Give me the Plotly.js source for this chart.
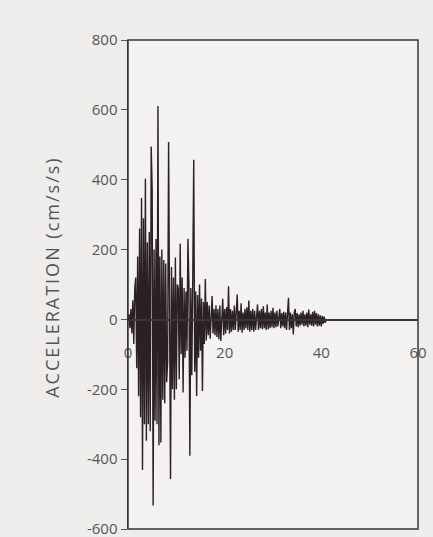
<!DOCTYPE html>
<html>
<head>
<meta charset="utf-8">
<script src="https://cdn.plot.ly/plotly-3.0.1.min.js"></script>
<style>
  html, body { margin: 0; padding: 0; background: #efedec; }
  #chart { width: 433px; height: 537px; }
  #chart .annotation-text { letter-spacing: 2px; }
</style>
</head>
<body>
<div id="chart"></div>
<script>
// Sampling interval of the record (seconds)
const dt = 0.2;
// Acceleration samples (cm/s/s), one every dt from t = 0
const accel = [
  0, 15, -25, 30, -40, 55, -70, 90, 120, -140,
  180, -220, 260, -280, 348, -431, 290, -300, 403, -347,
  220, -300, 250, -320, 495, 371, -533, 200, -290, 230,
  -300, 611, -360, 180, -352, 200, -230, 170, -240, 160,
  -180, -120, 508, 120, -457, 150, -200, 120, -230, 177,
  -200, 100, 90, -171, 217, -100, 120, -209, 90, -110,
  80, -90, 231, 100, -390, 90, -160, 120, 457, -150,
  80, -219, 70, -110, 100, -90, 60, -205, 50, -70,
  116, -60, 50, -45, 40, -55, 35, 67, -40, 30,
  -45, 40, -50, 30, -57, 40, -62, 30, 59, -45,
  30, -40, 35, -30, 95, -40, 30, -35, 25, -30,
  40, -30, 25, 71, -35, 25, -30, 46, -38, 20,
  -30, 30, -25, 35, -30, 54, -35, 25, -30, 30,
  -35, 25, -30, 20, 43, -30, 25, -25, 30, -28,
  38, -25, 20, -30, 43, -28, 20, -25, 25, -22,
  33, -25, 20, -22, 25, -20, 18, 30, -25, 18,
  -20, 22, -25, 20, -30, 25, 62, -30, 20, -25,
  15, -43, 20, 30, -20, 18, -22, 15, -18, 20,
  -15, 25, -20, 15, -18, 20, -22, 28, -15, 15,
  -18, 22, -20, 25, -15, 18, -20, 15, -18, 12,
  -20, 10, -12, 8, -10, 0
];
// Axis ticks
const xTicks = [0, 20, 40, 60];
const xTickLabels = ['0', '20', '40', '60'];
const yTicks = [-600, -400, -200, 0, 200, 400, 600, 800];
const yTickLabels = ['-600', '-400', '-200', '0', '200', '400', '600', '800'];
const xRange = [0, 60];
const yRange = [-600, 800];
const yTitle = 'ACCELERATION (cm/s/s)';

const time = accel.map((_, i) => +(i * dt).toFixed(2));

const trace = {
  x: time,
  y: accel,
  type: 'scatter',
  mode: 'lines',
  line: { color: '#2a2026', width: 1.4 },
  hoverinfo: 'skip'
};

const zeroPos = (0 - yRange[0]) / (yRange[1] - yRange[0]);

const layout = {
  width: 433,
  height: 537,
  margin: { l: 128, r: 15, t: 40, b: 8 },
  paper_bgcolor: '#efedec',
  plot_bgcolor: '#f3f2f1',
  showlegend: false,
  font: { family: 'Open Sans, sans-serif', color: '#555', size: 14 },
  xaxis: {
    range: xRange,
    tickvals: xTicks,
    ticktext: xTickLabels,
    anchor: 'free',
    position: zeroPos,
    showline: true,
    linecolor: '#3a3536',
    linewidth: 1.5,
    ticks: '',
    ticklabelstandoff: 19,
    ticklabeloverflow: 'allow',
    showgrid: false,
    zeroline: false,
    tickfont: { size: 15, color: '#555' }
  },
  yaxis: {
    range: yRange,
    tickvals: yTicks,
    ticktext: yTickLabels,
    showline: true,
    linecolor: '#3a3536',
    linewidth: 1.5,
    ticks: 'outside',
    ticklen: 6,
    tickcolor: '#555',
    tickwidth: 1,
    ticklabeloverflow: 'allow',
    showgrid: false,
    zeroline: false,
    tickfont: { size: 15, color: '#555' }
  },
  shapes: [{
    type: 'rect', xref: 'paper', yref: 'paper',
    x0: 0, x1: 1, y0: 0, y1: 1,
    line: { color: '#3a3536', width: 1.5 }
  }],
  annotations: [{
    text: yTitle,
    xref: 'paper', yref: 'paper',
    x: -0.26, y: 0.515,
    xanchor: 'center', yanchor: 'middle',
    textangle: -90,
    showarrow: false,
    font: { size: 18, color: '#555' }
  }]
};

Plotly.newPlot('chart', [trace], layout, { displayModeBar: false, staticPlot: true });
</script>
</body>
</html>
